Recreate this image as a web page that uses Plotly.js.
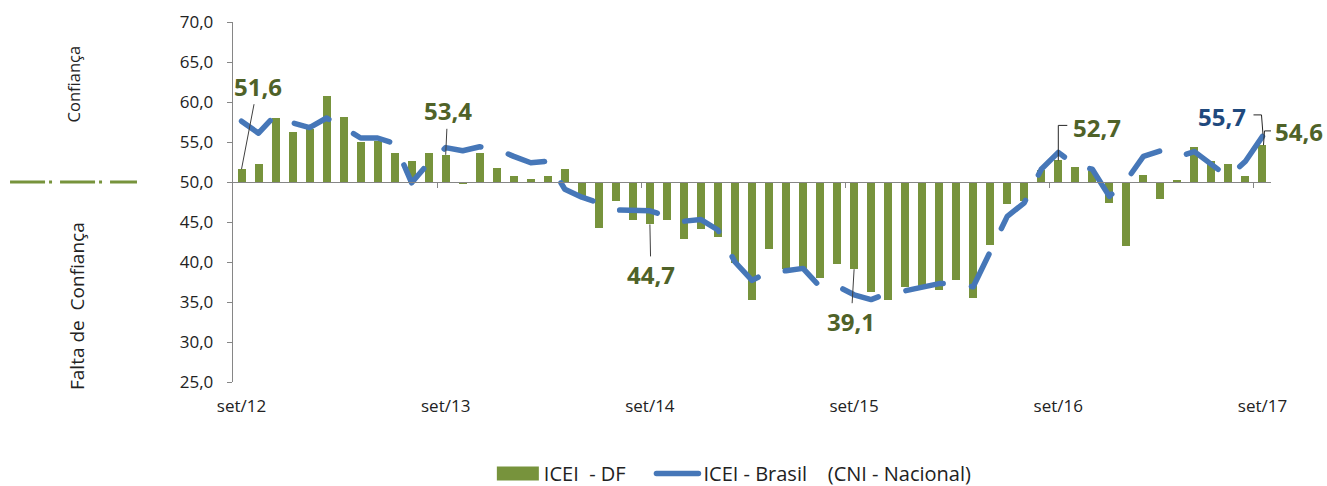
<!DOCTYPE html>
<html><head><meta charset="utf-8">
<script src="https://cdn.plot.ly/plotly-3.0.1.min.js"></script>
<style>html,body{margin:0;padding:0;background:#fff;}#chart{width:1327px;height:486px;}</style>
</head><body><div id="chart"></div>
<script>
// ---- data ----
const monthNames = ['set','out','nov','dez','jan','fev','mar','abr','mai','jun','jul','ago'];
const startYear = 12;
const nMonths = 61;
const tickLabels = ['set/12','set/13','set/14','set/15','set/16','set/17'];

const iceiDF = [51.6,52.2,58.0,56.2,56.6,60.8,58.1,55.0,55.1,53.6,
                52.6,53.6,53.4,49.8,53.6,51.7,50.8,50.4,50.8,51.6,
                48.2,44.3,47.6,45.2,44.7,45.2,42.9,44.1,43.1,39.9,
                35.3,41.6,39.1,39.1,38.0,39.8,39.1,36.2,35.3,36.9,
                37.0,36.5,37.7,35.5,42.1,47.2,47.6,51.5,52.7,51.9,
                51.4,47.4,42.0,50.9,47.9,50.2,54.4,52.6,52.3,50.7,
                54.6];
const iceiBR = [57.6,56.1,58.4,57.4,56.8,58.0,56.8,55.5,55.5,54.8,
                49.9,52.4,54.3,53.9,54.4,54.1,53.2,52.4,52.6,49.1,
                48.1,47.4,46.5,46.5,46.4,45.7,45.1,45.3,44.0,40.0,
                37.7,38.8,38.9,39.2,36.9,37.0,35.9,35.3,36.1,36.4,
                36.9,37.3,37.3,36.9,41.3,45.7,47.4,51.6,53.7,52.1,
                51.6,48.2,50.2,53.2,53.9,53.1,53.8,52.1,50.6,52.6,
                55.7];
const threshold = 50;

// ---- build categories ----
const categories = [];
for (let i = 0; i < nMonths; i++) {
  categories.push(monthNames[i % 12] + '/' + (startYear + Math.floor((i + 8) / 12)));
}
const idx = categories.map((c, i) => i);
const tickvals = tickLabels.map(t => categories.indexOf(t));
const fmt = v => v.toFixed(1).replace('.', ',');

const GREEN = '#77933C', DKGREEN = '#4F6228', BLUE = '#4677B8', DKBLUE = '#1F497D', AX = '#868686';
const FONT = 'Open Sans, Noto Sans, sans-serif';
const NB = '\u00a0';
const PAD = NB + NB + NB + '<span style="color:rgba(255,255,255,0)">.</span>';

const traces = [
  { type: 'bar', name: 'ICEI' + NB + NB + '- DF' + PAD, x: idx, y: iceiDF.map(v => v - threshold), base: threshold,
    marker: { color: GREEN }, width: 0.47, hoverinfo: 'skip' },
  { type: 'scatter', mode: 'lines', name: 'ICEI - Brasil' + NB + NB + NB + NB + '(CNI - Nacional)', x: idx, y: iceiBR,
    line: { color: BLUE, width: 5.5, dash: '38px,27px' }, hoverinfo: 'skip' },
  { type: 'scatter', mode: 'none', x: [0], y: [threshold], xaxis: 'x2', showlegend: false, hoverinfo: 'skip' }
];

const lblFont = (c) => ({ family: FONT, size: 24, color: c, weight: 'bold' });
const annotations = [];
[[0, 16, -83], [12, 2, -44], [24, 1, 50], [36, -3, 52]].forEach(([i, ax, ay]) => {
  annotations.push({ x: i, y: iceiDF[i], xref: 'x', yref: 'y', text: fmt(iceiDF[i]), showarrow: true,
    arrowhead: 0, arrowwidth: 1, arrowcolor: '#404040', ax: ax, ay: ay, font: lblFont(DKGREEN) });
});
annotations.push({ x: 48, y: iceiDF[48], xref: 'x', yref: 'y', text: fmt(iceiDF[48]), showarrow: false,
  xshift: 39, yshift: 33, font: lblFont(DKGREEN) });
annotations.push({ x: 60, y: iceiDF[60], xref: 'x', yref: 'y', text: fmt(iceiDF[60]), showarrow: false,
  xshift: 37, yshift: 14, font: lblFont(DKGREEN) });
annotations.push({ x: 60, y: iceiBR[60], xref: 'x', yref: 'y', text: fmt(iceiBR[60]), showarrow: false,
  xshift: -40, yshift: 20, font: lblFont(DKBLUE) });
annotations.push({ xref: 'paper', yref: 'paper', x: -0.1537, y: 0.828, xanchor: 'center', yanchor: 'middle',
  text: 'Confiança', textangle: -90, showarrow: false, font: { family: FONT, size: 16.5, color: '#222' } });
annotations.push({ xref: 'paper', yref: 'paper', x: -0.1503, y: 0.2111, xanchor: 'center', yanchor: 'middle',
  text: 'Falta de' + NB + NB + 'Confiança', textangle: -90, showarrow: false, font: { family: FONT, size: 19, color: '#222' } });

const shapes = [
  { type: 'path', xref: 'x', yref: 'y', xsizemode: 'pixel', ysizemode: 'pixel', xanchor: 48, yanchor: iceiDF[48],
    path: 'M0,0 L0,35 L9,35', line: { color: '#262626', width: 1 } },
  { type: 'path', xref: 'x', yref: 'y', xsizemode: 'pixel', ysizemode: 'pixel', xanchor: 60, yanchor: iceiBR[60],
    path: 'M0.5,2 L-1,21.5 L-9,21.5', line: { color: '#262626', width: 1 } },
  { type: 'path', xref: 'x', yref: 'y', xsizemode: 'pixel', ysizemode: 'pixel', xanchor: 60, yanchor: iceiDF[60],
    path: 'M1,0 L2,14.3 L10,14.3', line: { color: '#262626', width: 1 } },
  { type: 'line', xref: 'paper', yref: 'y', x0: -0.2148, x1: -0.0925, y0: threshold, y1: threshold,
    line: { color: GREEN, width: 3, dash: '35px,4px,3px,8px' } }
];

const layout = {
  width: 1327, height: 486,
  margin: { l: 233, r: 56, t: 22, b: 104, autoexpand: false },
  paper_bgcolor: '#fff', plot_bgcolor: '#fff',
  separators: ',.',
  font: { family: FONT, color: '#222' },
  bargap: 0,
  xaxis: { range: [-0.5, nMonths - 0.5], tickvals: tickvals, ticktext: tickLabels, ticks: '',
    showline: false, showgrid: false, zeroline: false, tickfont: { size: 17, color: '#222' },
    ticklabelstandoff: 12, fixedrange: true },
  xaxis2: { overlaying: 'x', anchor: 'free', position: (threshold - 25) / 45, matches: 'x',
    range: [-0.5, nMonths - 0.5], showline: true, linecolor: AX, linewidth: 1.3,
    tickvals: tickvals.slice(1).map(v => v - 0.5), ticks: 'outside', ticklen: 5, tickcolor: AX,
    showticklabels: false, showgrid: false, zeroline: false, side: 'bottom' },
  yaxis: { range: [25, 70], dtick: 5, tick0: 25, tickformat: '.1f', showline: true, linecolor: AX, linewidth: 1.3,
    ticks: 'outside', ticklen: 5, tickcolor: AX, showgrid: false, zeroline: false,
    tickfont: { size: 17, color: '#222' }, ticklabelstandoff: 10, fixedrange: true },
  showlegend: true,
  legend: { orientation: 'h', x: 0.483, xanchor: 'center', y: -0.2, yanchor: 'top', itemwidth: 42,
    font: { size: 20, color: '#222' }, traceorder: 'normal', borderwidth: 0 },
  annotations: annotations,
  shapes: shapes
};

Plotly.newPlot('chart', traces, layout, { staticPlot: true, displayModeBar: false }).then(() => {
  const lines = document.querySelectorAll('.scatterlayer .js-line');
  lines.forEach(p => {
    p.style.strokeLinecap = 'round'; p.style.strokeLinejoin = 'round';
    if (p.getTotalLength) {
      const L = p.getTotalLength();
      const D = 38;
      let P = (L - D) / 19;
      if (P > 55 && P < 80) p.style.strokeDasharray = D + 'px,' + (P - D).toFixed(2) + 'px';
    }
  });
  document.querySelectorAll('.legend .js-line').forEach(p => {
    p.style.strokeLinecap = 'round'; p.style.strokeDasharray = 'none';
  });
  const barSym = document.querySelector('.legend .traces .legendpoints path');
  if (barSym) barSym.setAttribute('d', 'M21,7H-21V-7H21Z');
});
</script></body></html>
